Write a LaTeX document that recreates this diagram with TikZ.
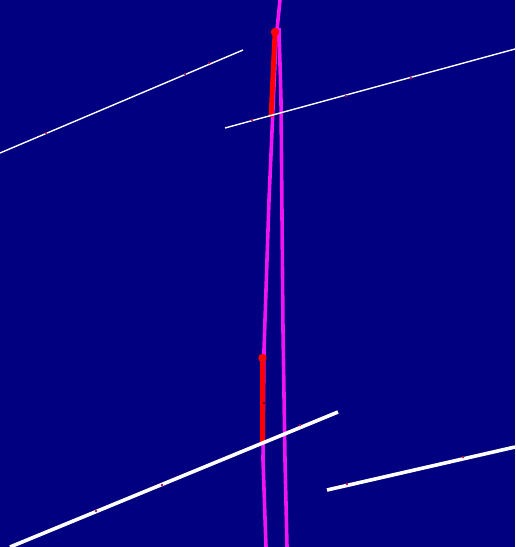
\documentclass[tikz,border=0pt]{standalone}
\definecolor{bgnavy}{RGB}{0,0,128}
\definecolor{mag}{RGB}{240,20,240}
\definecolor{speckred}{RGB}{170,20,70}
\begin{document}
\begin{tikzpicture}[x=1pt,y=-1pt,
  strand/.style={draw=mag, line width=3.6pt},
  redseg/.style={draw=red, line width=4.8pt},
  redtip/.style={fill=red},
  thinwhite/.style={draw=white, line width=1.4pt},
  thickwhite/.style={draw=white, line width=3.6pt},
  speck/.style={fill=speckred}]
\useasboundingbox (0,0) rectangle (515,547);
\fill[bgnavy] (0,0) rectangle (515,547);
% magenta strands
\coordinate (top) at (280,0);
\draw[strand] (top) -- (276,40) -- (269,200) -- (264,350) -- (263,460) -- (266,547);
\draw[strand] (279,28) -- (281,100) -- (283,330) -- (285,460) -- (287,547);
% red segments
\coordinate (r1a) at (275,32);
\coordinate (r1b) at (271,117);
\coordinate (r2a) at (262.5,358);
\coordinate (r2b) at (262.5,442);
\draw[redseg] (r1a) -- (r1b);
\fill[redtip] (r1a) circle (4.2pt);
\draw[redseg] (r2a) -- (r2b);
\fill[redtip] (r2a) circle (4.2pt);
\fill[black] (264,403) circle (0.8pt);
% white lines
\draw[thinwhite] (0,153) -- (243,50);
\draw[thinwhite] (225,128) -- (515,49);
\draw[thickwhite] (10,547) -- (338,412);
\draw[thickwhite] (327,490) -- (515,447);
% specks
\foreach \p in {(46,133),(185,74),(209,63),(252,120),(346,96),(411,78),(96,511),(162,485),(300,425),(347,484),(463,457)}
  \fill[speck] \p circle (1.3pt);
\end{tikzpicture}
\end{document}
